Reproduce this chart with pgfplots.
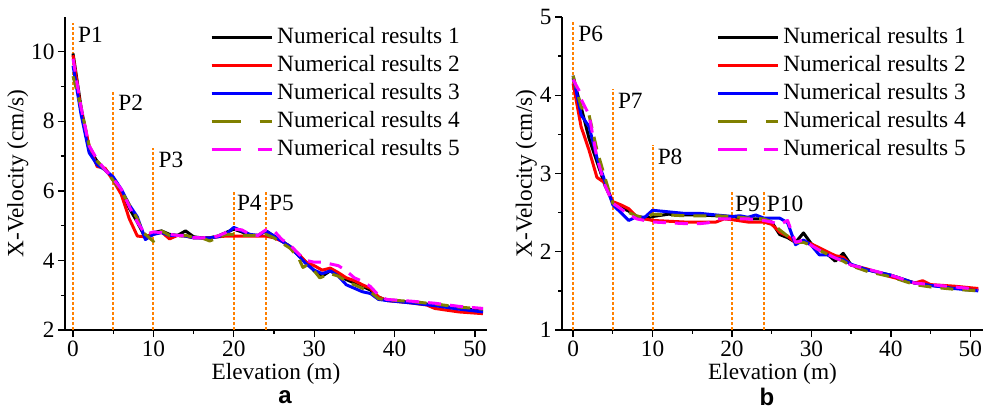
\documentclass[border=0pt]{standalone}
\usepackage{pgfplots}
\pgfplotsset{compat=1.18}
\usepackage{fontspec}
\setmainfont{Liberation Serif}
\newfontfamily\arialfont{Liberation Sans}
\definecolor{dorange}{RGB}{255,128,0}
\definecolor{olv}{RGB}{128,128,0}
\definecolor{mag}{RGB}{255,0,255}
\newcommand{\bigfont}{\fontsize{23.3bp}{28bp}\selectfont}
\tikzset{plab/.style={anchor=north west, inner sep=0pt, font=\bigfont}}
\pgfplotsset{
 mystyle/.style={
  scale only axis, height=313bp,
  axis x line*=bottom, axis y line*=left,
  axis line style={line width=1.3bp},
  tick align=outside, major tick length=7bp, minor tick length=4bp,
  every tick/.style={black, line width=1.3bp},
  minor x tick num=1, minor y tick num=1,
  xtick={0,10,...,50},
  label style={font=\bigfont},
  tick label style={font=\bigfont},
  /pgf/number format/assume math mode=true,
  xlabel={Elevation (m)}, ylabel={X-Velocity (cm/s)},
  ylabel style={yshift=-4bp},
  legend style={draw=none, fill=none, inner sep=0pt, row sep=4bp, column sep=3bp,
     nodes={inner sep=1bp, text height=17bp, text depth=5bp, font=\bigfont}, anchor=north west},
  legend cell align=left,
  legend image code/.code={\draw[##1] (0bp,0bp) -- (60bp,0bp);},
  every axis plot/.append style={line width=3bp, line join=round},
 },
 dline/.style={dorange, line width=2bp, dash pattern=on 2.5bp off 2.5bp, forget plot},
 s4/.style={olv, dash pattern=on 13bp off 9bp, legend image post style={dash pattern=on 29bp off 19bp}},
 s5/.style={mag, dash pattern=on 13bp off 9bp, legend image post style={dash pattern=on 29bp off 17bp}},
}
\begin{document}
\begin{tikzpicture}
\path[use as bounding box] (-65bp,-80bp) rectangle (922bp,330bp);
\begin{axis}[mystyle, width=422bp, at={(0bp,0bp)}, anchor=south west,
  xmin=-1, xmax=51.5, ymin=2, ymax=11, ytick={2,4,6,8,10},
  legend style={at={(0.3436,0.974)}}]
\addplot[dline] coordinates {(0,2) (0,10.83)};
\addplot[dline] coordinates {(5,2) (5,8.88)};
\addplot[dline] coordinates {(10,2) (10,7.23)};
\addplot[dline] coordinates {(20,2) (20,6.0)};
\addplot[dline] coordinates {(24,2) (24,6.0)};
\addplot[black] coordinates {(0,9.95)(1,8.4)(2,7.2)(3,6.85)(4,6.6)(5,6.35)(6,6.0)(7,5.5)(8,5.1)(9,4.65)(10,4.8)(11,4.85)(12,4.75)(13,4.72)(14,4.85)(15,4.68)(16,4.65)(17,4.65)(18,4.7)(19,4.8)(20,4.9)(21,4.82)(22,4.72)(23,4.72)(24,4.85)(25,4.7)(26,4.55)(27,4.4)(28,4.15)(29,3.95)(30,3.7)(31,3.55)(32,3.7)(33,3.6)(34,3.45)(35,3.35)(36,3.25)(37,3.15)(38,2.95)(39,2.85)(42,2.8)(45,2.72)(48,2.62)(51,2.55)};
\addlegendentry{Numerical results 1}
\addplot[red] coordinates {(0,9.9)(1,8.3)(2,7.3)(3,6.7)(4,6.65)(5,6.3)(6,5.9)(7,5.2)(8,4.7)(9,4.68)(10,4.75)(11,4.82)(12,4.62)(13,4.72)(14,4.7)(15,4.65)(16,4.65)(17,4.65)(18,4.68)(19,4.7)(20,4.7)(21,4.7)(22,4.7)(23,4.7)(24,4.7)(25,4.65)(26,4.55)(27,4.4)(28,4.2)(29,3.95)(30,3.85)(31,3.72)(32,3.78)(33,3.65)(34,3.5)(35,3.42)(36,3.3)(37,3.2)(38,2.95)(39,2.85)(42,2.78)(44,2.72)(45,2.62)(48,2.52)(51,2.47)};
\addlegendentry{Numerical results 2}
\addplot[blue] coordinates {(0,9.6)(1,8.2)(2,7.1)(3,6.75)(4,6.6)(5,6.4)(6,6.05)(7,5.6)(8,5.25)(9,4.6)(10,4.75)(11,4.8)(12,4.72)(13,4.72)(14,4.7)(15,4.65)(16,4.65)(17,4.65)(18,4.68)(19,4.75)(20,4.95)(21,4.85)(22,4.75)(23,4.72)(24,4.85)(25,4.7)(26,4.55)(27,4.4)(28,4.15)(29,3.9)(30,3.72)(31,3.62)(32,3.7)(33,3.55)(34,3.3)(35,3.2)(36,3.1)(37,3.05)(38,2.88)(39,2.85)(42,2.78)(45,2.7)(48,2.6)(51,2.52)};
\addlegendentry{Numerical results 3}
\addplot[s4] coordinates {(0,9.3)(1,8.4)(2,7.3)(3,6.85)(4,6.6)(5,6.3)(6,6.0)(7,5.6)(8,5.2)(8.7,4.8)(9,4.75)(10,4.55)(11,4.85)(12,4.72)(13,4.7)(14,4.72)(15,4.66)(16,4.65)(17,4.56)(18,4.65)(19,4.75)(20,4.75)(21,4.72)(22,4.72)(23,4.72)(24,4.75)(25,4.65)(26,4.5)(27,4.35)(28,4.1)(28.6,3.8)(29,3.85)(30,3.7)(30.7,3.5)(32,3.62)(33,3.55)(34,3.4)(35,3.3)(36,3.2)(37,3.1)(38,2.9)(39,2.87)(42,2.82)(45,2.75)(48,2.66)(51,2.6)};
\addlegendentry{Numerical results 4}
\addplot[s5] coordinates {(0,9.8)(1,8.4)(2,7.3)(3,6.9)(4,6.6)(5,6.35)(6,6.05)(7,5.55)(8,5.1)(9,4.75)(10,4.82)(11,4.8)(12,4.75)(13,4.72)(14,4.72)(15,4.66)(16,4.65)(17,4.66)(18,4.7)(19,4.8)(20,4.9)(21,4.88)(22,4.75)(23,4.72)(24,4.88)(25,4.85)(26,4.6)(27,4.45)(28,4.2)(29,4.0)(30,3.95)(31,3.95)(32,3.9)(33,3.85)(34,3.7)(35,3.5)(36,3.4)(37,3.25)(38,3.0)(39,2.88)(42,2.83)(45,2.77)(48,2.68)(51,2.62)};
\addlegendentry{Numerical results 5}
\node[plab, xshift=5bp, yshift=-4bp] at (axis cs:0,10.83) {P1};
\node[plab, xshift=5bp, yshift=-4bp] at (axis cs:5,8.88) {P2};
\node[plab, xshift=5bp, yshift=-4bp] at (axis cs:10,7.23) {P3};
\node[plab, xshift=3bp, yshift=-4bp] at (axis cs:20,6.0) {P4};
\node[plab, xshift=3bp, yshift=-4bp] at (axis cs:24,6.0) {P5};
\end{axis}
\begin{axis}[mystyle, width=421bp, at={(497bp,0bp)}, anchor=south west,
  xmin=-1.4, xmax=51.6, ymin=1, ymax=5, ytick={1,2,3,4,5},
  legend style={at={(0.366,0.974)}}]
\addplot[dline] coordinates {(0,1) (0,4.94)};
\addplot[dline] coordinates {(5,1) (5,4.08)};
\addplot[dline] coordinates {(10,1) (10,3.37)};
\addplot[dline] coordinates {(20,1) (20,2.77)};
\addplot[dline] coordinates {(24,1) (24,2.77)};
\addplot[black] coordinates {(0,4.22)(1,3.85)(2,3.45)(3,3.15)(4,2.85)(5,2.63)(6,2.57)(7,2.52)(8,2.45)(9,2.42)(10,2.45)(12,2.48)(14,2.47)(16,2.47)(18,2.46)(20,2.45)(22,2.42)(24,2.42)(25,2.38)(26,2.22)(27,2.18)(28,2.12)(29,2.24)(30,2.1)(31,2.03)(32,1.97)(33,1.88)(34,1.98)(35,1.83)(37,1.77)(40,1.7)(43,1.6)(45,1.57)(48,1.54)(51,1.51)};
\addlegendentry{Numerical results 1}
\addplot[red] coordinates {(0,4.15)(1,3.6)(2,3.3)(3,2.95)(4,2.88)(5,2.64)(6,2.6)(7,2.55)(8,2.45)(9,2.42)(10,2.4)(12,2.39)(14,2.38)(16,2.38)(18,2.38)(19,2.42)(20,2.41)(22,2.38)(24,2.38)(25,2.35)(26,2.25)(27,2.2)(28,2.12)(29,2.13)(30,2.1)(31,2.05)(32,2.0)(33,1.95)(34,1.93)(35,1.83)(37,1.78)(40,1.68)(43,1.6)(44,1.63)(45,1.58)(48,1.56)(51,1.53)};
\addlegendentry{Numerical results 2}
\addplot[blue] coordinates {(0,4.25)(1,3.75)(2,3.6)(3,3.2)(4,2.9)(5,2.6)(6,2.5)(7,2.4)(8,2.45)(9,2.44)(10,2.53)(12,2.51)(14,2.49)(16,2.49)(18,2.47)(20,2.45)(21,2.46)(22,2.44)(23,2.47)(24,2.43)(26,2.43)(27,2.37)(28,2.09)(29,2.15)(30,2.08)(31,1.96)(32,1.96)(33,1.92)(34,1.9)(35,1.84)(37,1.77)(40,1.7)(43,1.6)(45,1.57)(48,1.53)(51,1.5)};
\addlegendentry{Numerical results 3}
\addplot[s4] coordinates {(0,4.25)(1,3.85)(2,3.75)(3,3.3)(4,2.95)(5,2.62)(6,2.55)(7,2.5)(8,2.46)(9,2.43)(10,2.48)(12,2.47)(14,2.46)(16,2.46)(18,2.46)(20,2.45)(22,2.43)(24,2.42)(25,2.38)(26,2.28)(27,2.2)(28,2.12)(29,2.12)(30,2.08)(31,2.02)(32,1.97)(33,1.92)(34,1.88)(35,1.82)(37,1.75)(40,1.68)(43,1.58)(45,1.55)(48,1.52)(51,1.5)};
\addlegendentry{Numerical results 4}
\addplot[s5] coordinates {(0,4.2)(0.8,4.05)(1,3.95)(2,3.75)(3,3.2)(4,2.85)(5,2.62)(6,2.55)(7,2.48)(8,2.42)(9,2.4)(10,2.38)(12,2.37)(14,2.36)(16,2.36)(17,2.37)(18,2.42)(20,2.42)(22,2.42)(24,2.4)(25,2.38)(26,2.35)(27,2.4)(28,2.12)(29,2.15)(30,2.08)(31,2.02)(32,1.97)(33,1.92)(34,1.88)(35,1.83)(37,1.78)(40,1.7)(43,1.6)(45,1.58)(48,1.55)(51,1.52)};
\addlegendentry{Numerical results 5}
\node[plab, xshift=5bp, yshift=-4bp] at (axis cs:0,4.94) {P6};
\node[plab, xshift=5bp, yshift=-4bp] at (axis cs:5,4.08) {P7};
\node[plab, xshift=5bp, yshift=-4bp] at (axis cs:10,3.37) {P8};
\node[plab, xshift=3bp, yshift=-4bp] at (axis cs:20,2.77) {P9};
\node[plab, xshift=3bp, yshift=-4bp] at (axis cs:24,2.77) {P10};
\end{axis}
\node[inner sep=0pt, font=\fontsize{24bp}{28bp}\selectfont\arialfont\bfseries] at (220bp,-67bp) {a};
\node[inner sep=0pt, font=\fontsize{24bp}{28bp}\selectfont\arialfont\bfseries] at (702bp,-67bp) {b};
\end{tikzpicture}
\end{document}
